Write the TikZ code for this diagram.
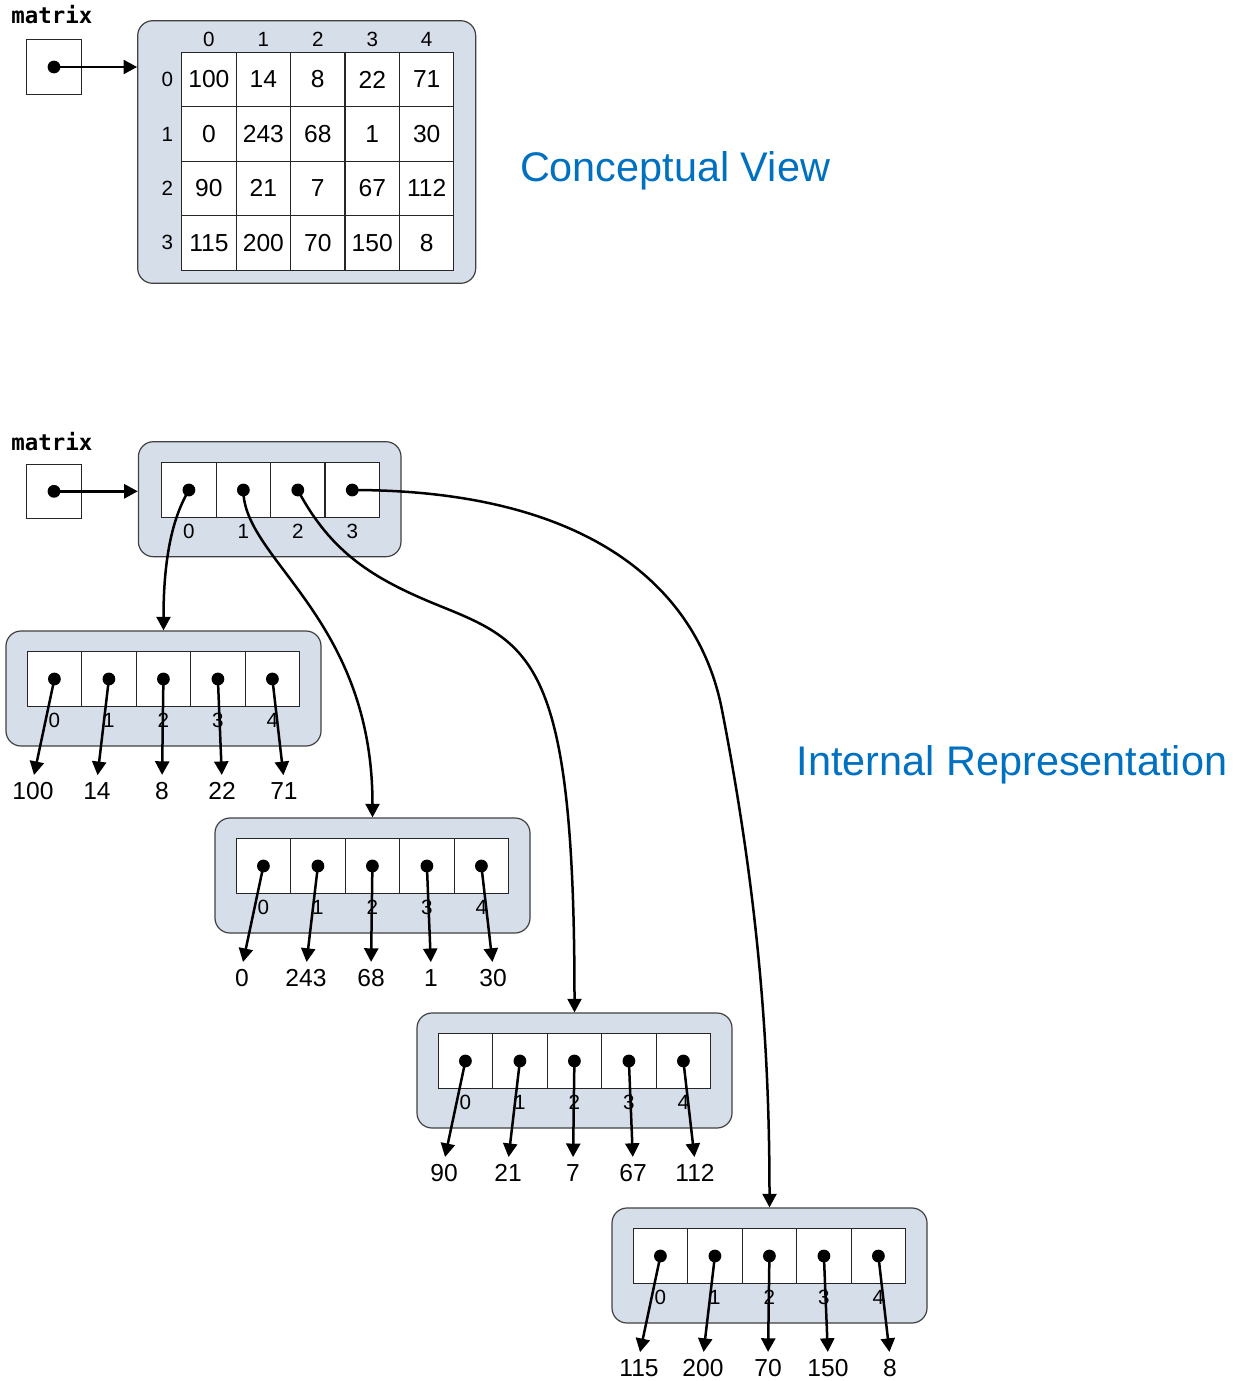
\documentclass[tikz,border=0pt]{standalone}
\usepackage{fontspec}
\setmainfont{Liberation Sans}
\setmonofont{DejaVu Sans Mono}
\usepackage{tikz}
\usetikzlibrary{arrows.meta,positioning,calc}
\definecolor{holderblue}{RGB}{214,222,234}
\definecolor{titleblue}{RGB}{0,112,192}
\def\matrixdata{{100,14,8,22,71},{0,243,68,1,30},{90,21,7,67,112},{115,200,70,150,8}}

\begin{document}
\begin{tikzpicture}[
    x=0.5pt, y=-0.5pt,
    holder/.style={rectangle, draw=black!75, fill=holderblue, rounded corners=7.5pt, line width=0.6pt, inner sep=0pt},
    cell/.style={rectangle, draw=black!85, fill=white, line width=0.55pt, minimum size=27.2pt, inner sep=0pt, font=\fontsize{12.3}{14}\selectfont},
    ptrbox/.style={rectangle, draw=black!85, fill=white, line width=0.55pt, minimum size=27.2pt, inner sep=0pt},
    idx/.style={inner sep=0pt, font=\fontsize{10.3}{12}\selectfont},
    val/.style={inner sep=1pt, font=\fontsize{12.3}{14}\selectfont},
    dot/.style={circle, fill=black, inner sep=0pt, minimum size=6.4pt},
    varname/.style={anchor=base west, inner sep=0pt, font=\fontsize{11.2}{13}\ttfamily\bfseries\selectfont},
    title/.style={anchor=base, inner sep=0pt, text=titleblue, font=\fontsize{20.7}{24}\selectfont},
    ptr/.style={-{Triangle[length=6.8pt, width=7pt]}, line width=1.25pt}
]
\useasboundingbox (0,0) rectangle (1245,1381);

% Conceptual view
\node[varname] (name-1) at (11,24) {matrix};
\node[ptrbox] (m-1) at (54,67) {};
\node[dot] (md-1) at (m-1.center) {};
\node[holder, minimum width=169pt, minimum height=131.3pt] (grid) at (306.7,152) {};
\foreach \vals [count=\r from 0] in \matrixdata {
  \node[idx] (rh-\r) at (167.3, 79.5+54.45*\r) {\r};
  \foreach \v [count=\j from 0] in \vals
    \node[cell] (g-\r-\j) at (208.9+54.45*\j, 79.5+54.45*\r) {\v};
}
\foreach \j in {0,...,4}
  \node[idx] (ch-\j) at (208.9+54.45*\j, 39.3) {\j};
\draw[ptr] (md-1.center) -- (md-1.center -| grid.west);
\node[title] (concept) at (675,181.7) {Conceptual View};

% Internal representation: array of row pointers
\node[varname] (name-2) at (11,450) {matrix};
\node[ptrbox] (m-2) at (54,491.3) {};
\node[dot] (md-2) at (m-2.center) {};
\node[holder, minimum width=131.3pt, minimum height=57.5pt] (rows) at (269.7,499.2) {};
\foreach \k in {0,...,3} {
  \node[cell] (p-\k) at (188.9+54.45*\k, 490) {};
  \node[idx] (pi-\k) at (188.9+54.45*\k, 531) {\k};
  \node[dot] (pd-\k) at (p-\k.center) {};
}
\draw[ptr] (md-2.center) -- (md-2.center -| rows.west);

% Row arrays
\foreach \vals [count=\r from 0] in \matrixdata {
  \pgfmathsetmacro{\X}{{6,215,417,612}[\r]}
  \pgfmathsetmacro{\Y}{{631,818,1013,1208}[\r]}
  \node[holder, minimum width=157.5pt, minimum height=57.5pt] (arr-\r) at (\X+157.5, \Y+57.5) {};
  \foreach \v [count=\j from 0] in \vals {
    \pgfmathsetmacro{\dx}{{27,91,156,216,278}[\j]}
    \node[cell] (c-\r-\j) at (\X+48.4+54.5*\j, \Y+48) {};
    \node[idx] (i-\r-\j) at (\X+48.4+54.5*\j, \Y+89) {\j};
    \node[dot] (d-\r-\j) at (c-\r-\j.center) {};
    \node[val] (v-\r-\j) at (\X+\dx, \Y+160) {\v};
  }
  \foreach \j in {0,...,4}
    \draw[ptr, shorten >=2.5pt] (d-\r-\j.center) -- (v-\r-\j.north);
}

% Pointers to the rows
\coordinate (bend-2) at (440,606);
\coordinate (bend-3) at (722,710);
\draw[ptr] (pd-0.center) to[out=-120, in=90, out distance=10pt, in distance=45pt] (arr-0.north);
\draw[ptr] (pd-1.center) to[out=-90, in=90, out distance=35pt, in distance=100pt] (arr-1.north);
\draw[ptr] (pd-2.center) to[out=-62, in=158] (bend-2)
  to[out=-22, in=90, out distance=50pt, in distance=175pt] (arr-2.north);
\draw[ptr] (pd-3.center) to[out=0, in=101, out distance=115pt, in distance=65pt] (bend-3)
  to[out=-79, in=90, out distance=100pt, in distance=75pt] (arr-3.north);

\node[title] (internal) at (1012,775) {Internal Representation};

\end{tikzpicture}
\end{document}
